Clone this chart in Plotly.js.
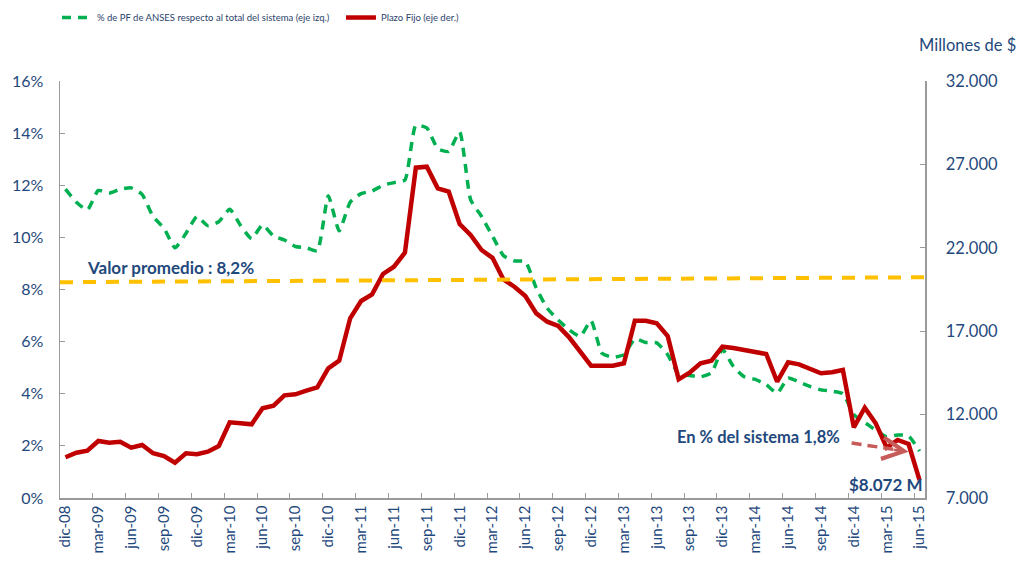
<!DOCTYPE html>
<html>
<head>
<meta charset="utf-8">
<script src="https://cdn.plot.ly/plotly-3.0.1.min.js"></script>
<style>
    html, body { margin: 0; padding: 0; background: #fff; }
    #grafico { width: 1023px; height: 562px; }
</style>
</head>
<body>
<div id="grafico"></div>
<script>
// Datos mensuales dic-08 a jun-15

var nombresMes = ['ene', 'feb', 'mar', 'abr', 'may', 'jun', 'jul', 'ago', 'sep', 'oct', 'nov', 'dic'];
var meses = [];
for (var k = 0; k < 79; k++) {
    var anio = 8 + Math.floor((11 + k) / 12);
    meses.push(nombresMes[(11 + k) % 12] + '-' + (anio < 10 ? '0' + anio : anio));
}

// % de PF de ANSES respecto al total del sistema (eje izq.)
var pctAnses = [11.85, 11.35, 11.05, 11.8, 11.7, 11.85, 11.9, 11.65, 10.8, 10.35,
    9.6, 10.15, 10.8, 10.45, 10.6, 11.08, 10.45, 9.95, 10.48, 10.05,
    9.9, 9.65, 9.6, 9.48, 11.6, 10.25, 11.35, 11.68, 11.78, 12.0,
    12.1, 12.2, 14.3, 14.2, 13.4, 13.3, 14.05, 11.45, 10.8, 10.05,
    9.3, 9.1, 9.07, 8.05, 7.28, 6.83, 6.45, 6.2, 6.8, 5.55,
    5.4, 5.5, 6.1, 5.97, 5.95, 5.5, 4.75, 4.7, 4.65, 4.8,
    5.7, 5.05, 4.65, 4.55, 4.35, 4.02, 4.6, 4.45, 4.28, 4.15,
    4.1, 4.0, 3.2, 2.9, 2.6, 2.35, 2.42, 2.38, 1.8];

// Plazo Fijo, millones de $ (eje der.)
var plazoFijo = [9440, 9716, 9836, 10417, 10316, 10376, 10016, 10177, 9680, 9518,
    9116, 9680, 9620, 9776, 10117, 11538, 11478, 11418, 12377, 12535,
    13157, 13217, 13433, 13637, 14775, 15231, 17773, 18810, 19212, 20429,
    20866, 21706, 26802, 26862, 25567, 25366, 23427, 22767, 21868, 21400,
    20100, 19667, 19110, 18070, 17571, 17311, 16633, 15771, 14931, 14931,
    14931, 15075, 17630, 17630, 17473, 16712, 14116, 14512, 15075, 15231,
    16071, 15993, 15873, 15771, 15633, 13972, 15135, 15015, 14716, 14476,
    14536, 14674, 11238, 12414, 11478, 10016, 10477, 10237, 8072];

// línea de valor promedio (extremos izq./der.)
var promedioX = [-0.5, 78.5];
var promedio = [8.28, 8.47];

var azul = '#1F497D';
var gris = '#9A9A9A';
var fuente = 'Lato, "Open Sans", sans-serif';

var trazas = [
    {
        x: meses, y: pctAnses,
        type: 'scatter', mode: 'lines',
        name: '% de PF de ANSES respecto al total del sistema (eje izq.)',
        line: { color: '#00B050', width: 3.5, dash: '9px,7px', shape: 'spline', smoothing: 0.5 },
        yaxis: 'y'
    },
    {
        x: meses, y: plazoFijo,
        type: 'scatter', mode: 'lines',
        name: 'Plazo Fijo (eje der.)',
        line: { color: '#C00000', width: 4.5 },
        yaxis: 'y2'
    },
    {
        x: promedioX, y: promedio,
        type: 'scatter', mode: 'lines',
        line: { color: '#FFC000', width: 4, dash: '13px,10px' },
        xaxis: 'x2', yaxis: 'y3',
        showlegend: false, hoverinfo: 'skip'
    }
];

var layout = {
    width: 1023, height: 562,
    margin: { l: 60, r: 98, t: 81, b: 64, autoexpand: false },
    paper_bgcolor: '#ffffff', plot_bgcolor: '#ffffff',
    separators: ',.',
    font: { family: fuente, color: azul },
    showlegend: true,
    legend: {
        orientation: 'h', x: -0.0035, xanchor: 'left', y: 1.187, yanchor: 'top',
        entrywidth: 239, entrywidthmode: 'pixels', itemwidth: 30,
        font: { size: 9.5, color: '#2B3F6B', family: fuente },
        bgcolor: 'rgba(0,0,0,0)'
    },
    xaxis: {
        type: 'category', range: [-0.5, 78.5],
        tickmode: 'linear', tick0: 0, dtick: 3, tickson: 'boundaries',
        ticks: 'inside', ticklen: 5, tickcolor: gris, tickangle: -90,
        tickfont: { size: 15, color: azul },
        showline: true, linecolor: gris, linewidth: 1.5,
        showgrid: false, zeroline: false
    },
    xaxis2: { overlaying: 'x', range: [-0.5, 78.5], visible: false },
    yaxis: {
        range: [0, 16], dtick: 2, ticksuffix: '%',
        ticks: 'inside', ticklen: 5, tickcolor: gris,
        tickfont: { size: 16, color: azul }, ticklabelstandoff: 12,
        showline: true, linecolor: gris, linewidth: 1.5,
        showgrid: false, zeroline: false
    },
    yaxis2: {
        overlaying: 'y', side: 'right', range: [7000, 32000], tick0: 7000, dtick: 5000,
        tickformat: ',.0f',
        ticks: 'inside', ticklen: 5, tickcolor: gris,
        tickfont: { size: 16.5, color: azul }, ticklabelstandoff: 16,
        showline: true, linecolor: gris, linewidth: 1.5,
        showgrid: false, zeroline: false
    },
    yaxis3: { overlaying: 'y', range: [0, 16], visible: false },
    shapes: [
        {
            type: 'line', xref: 'x2', yref: 'y',
            x0: 71.8, y0: 2.11, x1: 75.9, y1: 1.85,
            line: { color: '#C65B59', width: 3.5, dash: '10px,6px' }
        }
    ],
    annotations: [
        {
            xref: 'paper', yref: 'paper', x: 1.1075, y: 1.086,
            xanchor: 'right', yanchor: 'middle', showarrow: false,
            text: 'Millones de $', font: { size: 16.5, color: azul }
        },
        {
            xref: 'x2', yref: 'y', x: 1.8, y: 8.83,
            xanchor: 'left', yanchor: 'middle', showarrow: false,
            text: '<b>Valor promedio : 8,2%</b>', font: { size: 17, color: azul }
        },
        {
            xref: 'x2', yref: 'y', x: 55.7, y: 2.35,
            xanchor: 'left', yanchor: 'middle', showarrow: false,
            text: '<b>En % del sistema 1,8%</b>', font: { size: 16.5, color: azul }
        },
        {
            xref: 'x2', yref: 'y', x: 71.4, y: 0.5,
            xanchor: 'left', yanchor: 'middle', showarrow: false,
            text: '<b>$8.072 M</b>', font: { size: 17, color: azul }
        },
        {
            xref: 'x2', yref: 'y', axref: 'x2', ayref: 'y',
            x: 77.0, y: 1.77, ax: 75.5, ay: 1.86,
            text: '', showarrow: true, arrowhead: 5, arrowsize: 1.7,
            arrowwidth: 2.5, arrowcolor: '#C65B59'
        }
    ]
};

Plotly.newPlot('grafico', trazas, layout, { displayModeBar: false, staticPlot: true });
</script>
</body>
</html>
